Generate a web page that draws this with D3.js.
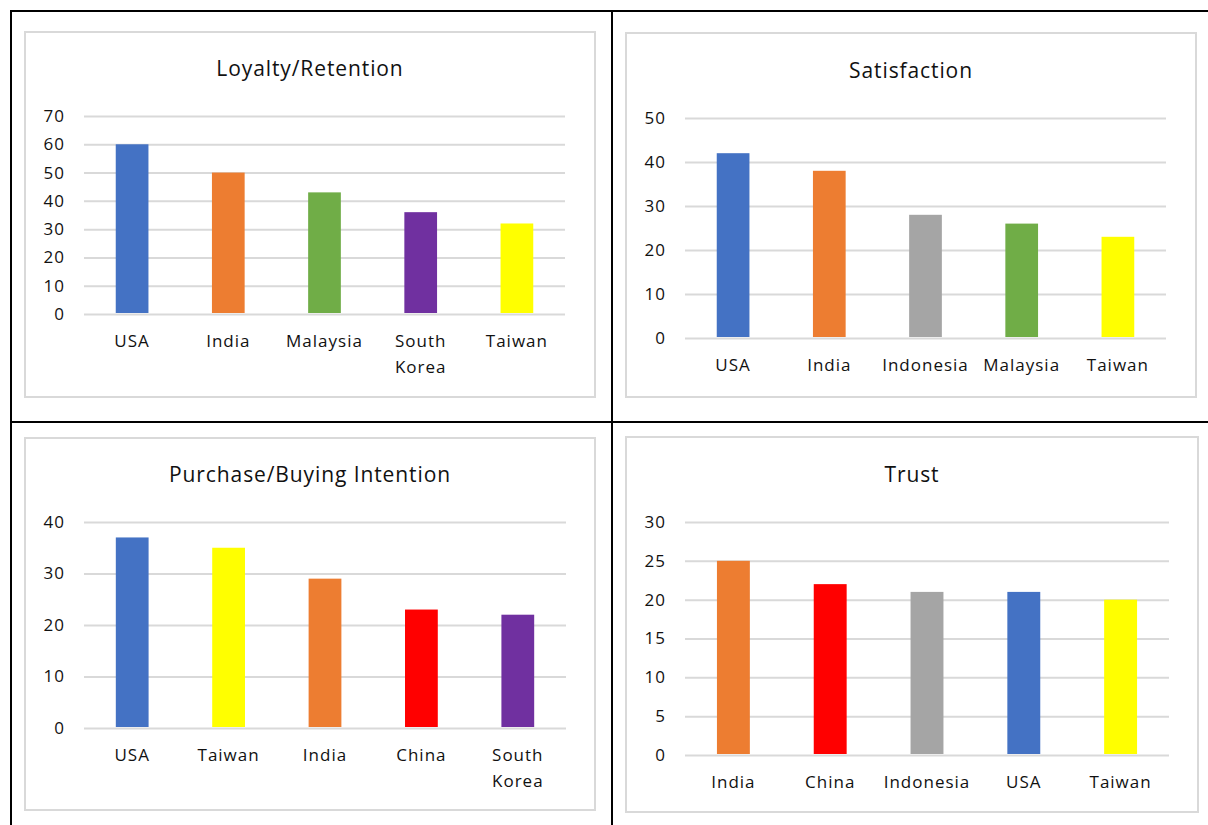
<!DOCTYPE html>
<html>
<head>
<meta charset="utf-8">
<script src="https://cdn.jsdelivr.net/npm/d3@7"></script>
<style>
  body { margin: 0; background: #fff; }
  svg text { font-family: "Open Sans", "Noto Sans", sans-serif; fill: #111; }
</style>
</head>
<body>
<div id="chart"></div>
<script>
// values
const loyaltyCountries = ["USA", "India", "Malaysia", "South Korea", "Taiwan"];
const loyaltyValues = [60, 50, 43, 36, 32];
const loyaltyTicks = [0, 10, 20, 30, 40, 50, 60, 70];

const satisfactionCountries = ["USA", "India", "Indonesia", "Malaysia", "Taiwan"];
const satisfactionValues = [42, 38, 28, 26, 23];
const satisfactionTicks = [0, 10, 20, 30, 40, 50];

const purchaseCountries = ["USA", "Taiwan", "India", "China", "South Korea"];
const purchaseValues = [37, 35, 29, 23, 22];
const purchaseTicks = [0, 10, 20, 30, 40];

const trustCountries = ["India", "China", "Indonesia", "USA", "Taiwan"];
const trustValues = [25, 22, 21, 21, 20];
const trustTicks = [0, 5, 10, 15, 20, 25, 30];

// one colour per country, same as the original office palette
const countryColor = {
  "USA": "#4472C4",
  "India": "#ED7D31",
  "Malaysia": "#70AD47",
  "South Korea": "#7030A0",
  "Taiwan": "#FFFF00",
  "Indonesia": "#A5A5A5",
  "China": "#FF0000"
};

const width = 1208, height = 825;

const svg = d3.select("#chart")
  .append("svg")
  .attr("width", width)
  .attr("height", height);

// table lines around the panels
const lineColor = "#000";
svg.append("line").attr("x1", 11).attr("x2", width).attr("y1", 11).attr("y2", 11)
  .attr("stroke", lineColor).attr("stroke-width", 2);
svg.append("line").attr("x1", 11).attr("x2", 11).attr("y1", 10).attr("y2", height)
  .attr("stroke", lineColor).attr("stroke-width", 2);
svg.append("line").attr("x1", 612).attr("x2", 612).attr("y1", 10).attr("y2", height)
  .attr("stroke", lineColor).attr("stroke-width", 2);
svg.append("line").attr("x1", 11).attr("x2", width).attr("y1", 422).attr("y2", 422)
  .attr("stroke", lineColor).attr("stroke-width", 2);

function drawPanel(opt) {
  const g = svg.append("g");

  g.append("rect")
    .attr("x", opt.box[0]).attr("y", opt.box[1])
    .attr("width", opt.box[2]).attr("height", opt.box[3])
    .attr("fill", "#fff")
    .attr("stroke", "#d9d9d9")
    .attr("stroke-width", 2);

  // title is centred on the whole chart box
  g.append("text")
    .attr("x", opt.box[0] + opt.box[2] / 2)
    .attr("y", opt.titleY)
    .attr("text-anchor", "middle")
    .style("font-size", "21px")
    .style("letter-spacing", "0.9px")
    .text(opt.title);

  const x = d3.scaleBand()
    .domain(opt.categories)
    .range([opt.left, opt.right])
    .paddingInner(0.66)
    .paddingOuter(0.33);

  const y = d3.scaleLinear()
    .domain([0, d3.max(opt.ticks)])
    .range([opt.bottom, opt.top]);

  // gridlines + tick labels
  const yAxis = g.append("g")
    .attr("transform", `translate(${opt.left},0)`)
    .call(d3.axisLeft(y).tickValues(opt.ticks).tickSize(-(opt.right - opt.left)).tickPadding(19));
  yAxis.select(".domain").remove();
  yAxis.selectAll(".tick line").attr("stroke", "#d9d9d9").attr("stroke-width", 2);
  yAxis.selectAll(".tick text")
    .style("font-size", "17px")
    .style("letter-spacing", "1px")
    .style("font-family", "'Open Sans', 'Noto Sans', sans-serif")
    .attr("fill", "#111");

  g.selectAll(".bar")
    .data(opt.values)
    .join("rect")
    .attr("class", "bar")
    .attr("x", (d, i) => x(opt.categories[i]))
    .attr("y", d => y(d))
    .attr("width", x.bandwidth())
    .attr("height", d => y(0) - y(d) - 1)
    .attr("fill", (d, i) => countryColor[opt.categories[i]]);

  // category labels, "South Korea" wraps onto two lines
  const labels = g.selectAll(".xlab")
    .data(opt.categories)
    .join("text")
    .attr("class", "xlab")
    .attr("text-anchor", "middle")
    .attr("x", d => x(d) + x.bandwidth() / 2)
    .attr("y", opt.bottom + 33)
    .style("font-size", "17px")
    .style("letter-spacing", "1px");
  labels.each(function(d) {
    const words = d === "South Korea" ? d.split(" ") : [d];
    const t = d3.select(this);
    words.forEach((w, k) => {
      t.append("tspan")
        .attr("x", x(d) + x.bandwidth() / 2)
        .attr("dy", k === 0 ? 0 : 26)
        .text(w);
    });
  });
}

drawPanel({
  title: "Loyalty/Retention",
  categories: loyaltyCountries, values: loyaltyValues, ticks: loyaltyTicks,
  box: [25, 32, 570, 365], titleY: 76,
  left: 84, right: 565, top: 116, bottom: 314
});

drawPanel({
  title: "Satisfaction",
  categories: satisfactionCountries, values: satisfactionValues, ticks: satisfactionTicks,
  box: [626, 33, 570, 364], titleY: 78,
  left: 685, right: 1166, top: 118, bottom: 338
});

drawPanel({
  title: "Purchase/Buying Intention",
  categories: purchaseCountries, values: purchaseValues, ticks: purchaseTicks,
  box: [25, 438, 570, 372], titleY: 482,
  left: 84, right: 566, top: 522, bottom: 728
});

drawPanel({
  title: "Trust",
  categories: trustCountries, values: trustValues, ticks: trustTicks,
  box: [626, 437, 572, 375], titleY: 482,
  left: 685, right: 1169, top: 522, bottom: 755
});
</script>
</body>
</html>
